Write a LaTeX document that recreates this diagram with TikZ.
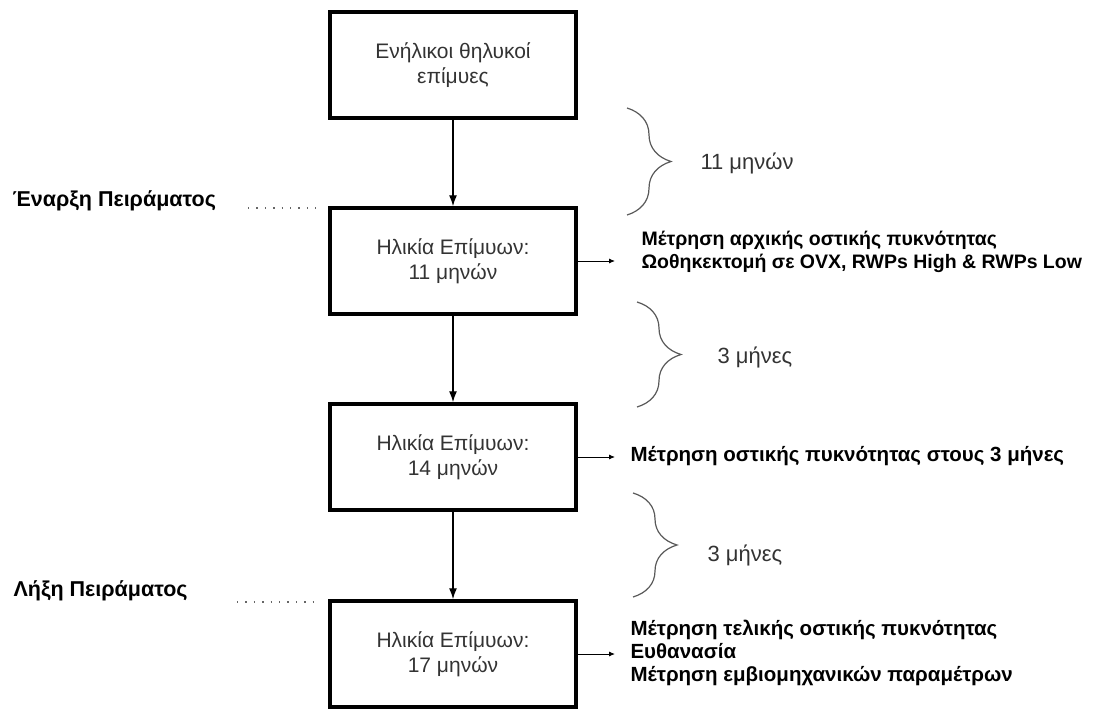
\documentclass[tikz,border=0pt]{standalone}
\usepackage{fontspec}
\setmainfont{Liberation Sans}
\usetikzlibrary{arrows.meta,decorations.pathreplacing}

\begin{document}
\begin{tikzpicture}[x=1pt,y=-1pt,
    box/.style={draw,line width=3.5pt,minimum width=246pt,minimum height=106pt,align=center,text=black!80,font=\fontsize{21}{25}\selectfont},
    flow/.style={draw,line width=1.3pt,-{Latex[length=11pt,width=8pt]}},
    side/.style={draw,line width=0.9pt,-{Latex[length=6pt,width=5pt]}},
    note/.style={anchor=west,align=left,font=\fontsize{20.5}{23}\selectfont\bfseries},
    stage/.style={anchor=west,font=\fontsize{21.5}{24}\selectfont\bfseries},
    span/.style={draw=black!65,line width=1.2pt,decorate,decoration={brace,amplitude=44pt}},
    spanlabel/.style={anchor=west,text=black!80,font=\fontsize{22}{24}\selectfont},
    dots/.style={draw=black!60,line width=1.4pt,dash pattern=on 1.4pt off 7pt}]
\useasboundingbox (0,0) rectangle (1101,709);

% main column
\foreach \pos/\name/\txt in {{(453,65)/b1/Ενήλικοι θηλυκοί\\επίμυες}, {(453,261)/b2/Ηλικία Επίμυων:\\11 μηνών},
    {(453,457)/b3/Ηλικία Επίμυων:\\14 μηνών}, {(453,654)/b4/Ηλικία Επίμυων:\\17 μηνών}}
  \node[box] (\name) at \pos {\txt};
\foreach \source/\dest in {b1/b2, b2/b3, b3/b4}
  \path[flow] (\source) -- (\dest);

% what happens at each age
\foreach \name/\y in {o2/261, o3/457, o4/654}
  \coordinate (\name) at (615,\y);
\path[side] (b2.east) -- (o2);
\path[side] (b3.east) -- (o3);
\path[side] (b4.east) -- (o4);
\node[note,font=\fontsize{19.5}{22.5}\selectfont\bfseries] (n2) at (638,252) {Μέτρηση αρχικής οστικής πυκνότητας\\Ωοθηκεκτομή σε OVX, RWPs High \& RWPs Low};
\node[note] (n3) at (627,456) {Μέτρηση οστικής πυκνότητας στους 3 μήνες};
\node[note] (n4) at (627,653) {Μέτρηση τελικής οστικής πυκνότητας\\Ευθανασία\\Μέτρηση εμβιομηχανικών παραμέτρων};

% start and end of the experiment
\node[stage] (start) at (9,201) {Έναρξη Πειράματος};
\node[stage] (end) at (10,591) {Λήξη Πειράματος};
\coordinate (d1) at (248,208);
\coordinate (d2) at (237,602);
\path[dots,shorten >=12pt] (d1) -- (d1 -| b2.west);
\path[dots,shorten >=12pt] (d2) -- (d2 -| b4.west);

% time spans
\foreach \x/\ya/\yb/\name in {627/108/215/s1, 637/302/407/s2, 633/493/597/s3} {
  \coordinate (\name a) at (\x,\ya);
  \coordinate (\name b) at (\x,\yb);
  \path[span] (\name a) -- (\name b);
}
\node[spanlabel] (l1) at (697,163) {11 μηνών};
\node[spanlabel] (l2) at (714,357) {3 μήνες};
\node[spanlabel] (l3) at (704,555) {3 μήνες};
\end{tikzpicture}
\end{document}
